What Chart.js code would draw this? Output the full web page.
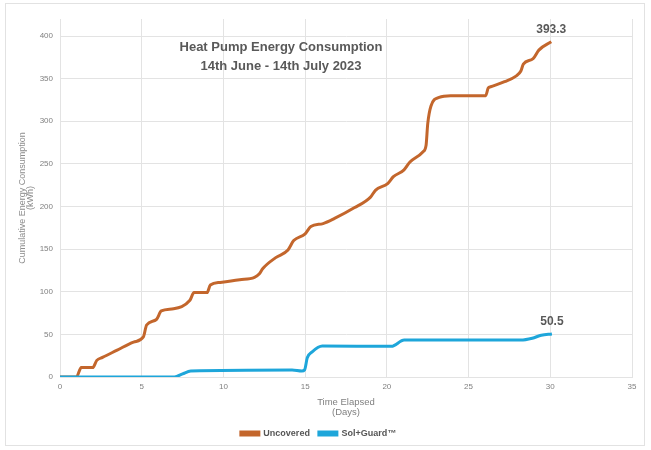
<!DOCTYPE html>
<html>
<head>
<meta charset="utf-8">
<script src="https://cdn.jsdelivr.net/npm/chart.js@4/dist/chart.umd.min.js"></script>
<style>
    html, body { margin: 0; padding: 0; background: #fff; }
    #wrap { width: 651px; height: 450px; position: relative; }
</style>
</head>
<body>
<div id="wrap"><canvas id="energyChart" width="651" height="450"></canvas></div>
<script>
// data
const uncoveredDays = [0, 1.0, 1.3, 2.0, 2.25, 2.6, 3.5, 4.5, 5.1, 5.3, 5.9, 6.2, 6.95, 7.95, 8.2, 9.0, 9.2, 9.8, 11.0, 11.9, 12.2, 12.4,
    13.2, 13.95, 14.3, 15.0, 15.35, 16.1, 16.8, 18.0, 19.0, 19.3, 20.05, 20.4, 21.05, 21.4, 22.2, 22.4, 22.5, 22.7,
    23.2, 23.9, 26.05, 26.2, 26.35, 27.2, 27.9, 28.2, 28.35, 28.95, 29.3, 30.06];
const uncoveredKwh = [0, 0, 11, 11, 19.5, 23, 31.5, 41, 47, 61, 67.5, 77.5, 80, 90, 99, 99, 108, 111, 114, 117, 121, 127,
    140, 149, 160, 168, 176.5, 180, 186, 198.5, 211, 219, 227, 235, 243, 252, 264, 272, 297, 318,
    328, 330, 330, 339, 340.5, 346.5, 353, 359, 367, 373.5, 383.5, 393.3];

const solDays = [0, 7.0, 7.5, 8.0, 14.2, 14.8, 14.97, 15.13, 15.43, 16.05, 20.28, 21.06, 28.2, 28.9, 29.45, 30.1];
const solKwh = [0, 0, 3.7, 7, 8.2, 7, 8.5, 22.5, 29.5, 36.3, 36, 43.3, 43.3, 45.5, 49, 50.5];

const xTicks = [0, 5, 10, 15, 20, 25, 30, 35];
const yTicks = [0, 50, 100, 150, 200, 250, 300, 350, 400];

const seriesNames = ['Uncovered', 'Sol+Guard\u2122'];
const endLabels = ['393.3', '50.5'];
const chartTitle = ['Heat Pump Energy Consumption', '14th June - 14th July 2023'];

const FONT = '"Liberation Sans", Arial, sans-serif';
const ORANGE = '#c3662c';
const BLUE = '#1ea6da';

function toPoints(xs, ys) {
    return xs.map((x, i) => ({ x: x, y: ys[i] }));
}

// white page + light frame
const framePlugin = {
    id: 'frame',
    beforeDraw(chart) {
        const ctx = chart.ctx;
        ctx.save();
        ctx.fillStyle = '#fff';
        ctx.fillRect(0, 0, chart.width, chart.height);
        ctx.strokeStyle = '#e2e2e2';
        ctx.lineWidth = 1;
        ctx.strokeRect(5.5, 3.5, 639, 442);
        ctx.restore();
    }
};

// title inside the plot and values at line ends
const textPlugin = {
    id: 'texts',
    afterDatasetsDraw(chart) {
        const ctx = chart.ctx;
        const xs = chart.scales.x;
        const ys = chart.scales.y;
        ctx.save();
        ctx.fillStyle = '#595959';
        ctx.textAlign = 'center';
        ctx.textBaseline = 'middle';
        ctx.font = 'bold 13px ' + FONT;
        ctx.fillText(chartTitle[0], 281, 47);
        ctx.fillText(chartTitle[1], 281, 66);

        ctx.font = 'bold 12px ' + FONT;
        const lasts = [
            [uncoveredDays[uncoveredDays.length - 1], uncoveredKwh[uncoveredKwh.length - 1]],
            [solDays[solDays.length - 1], solKwh[solKwh.length - 1]]
        ];
        lasts.forEach((p, i) => {
            ctx.fillText(endLabels[i], xs.getPixelForValue(p[0]), ys.getPixelForValue(p[1]) - 12);
        });
        ctx.restore();
    }
};

const ctx = document.getElementById('energyChart').getContext('2d');

new Chart(ctx, {
    type: 'line',
    data: {
        datasets: [{
            label: seriesNames[0],
            data: toPoints(uncoveredDays, uncoveredKwh),
            borderColor: ORANGE,
            backgroundColor: ORANGE,
            borderWidth: 3,
            pointRadius: 0,
            cubicInterpolationMode: 'monotone',
            order: 2
        }, {
            label: seriesNames[1],
            data: toPoints(solDays, solKwh),
            borderColor: BLUE,
            backgroundColor: BLUE,
            borderWidth: 3,
            pointRadius: 0,
            cubicInterpolationMode: 'monotone',
            order: 1
        }]
    },
    options: {
        responsive: false,
        animation: false,
        layout: { padding: { left: 5, right: 19, top: 19, bottom: 2 } },
        plugins: {
            tooltip: { enabled: false },
            legend: {
                position: 'bottom',
                reverse: true,
                labels: {
                    boxWidth: 18,
                    boxHeight: 3,
                    padding: 9,
                    color: '#555555',
                    font: { family: FONT, size: 9, weight: 'bold' }
                }
            }
        },
        scales: {
            x: {
                type: 'linear',
                min: 0,
                max: 35,
                afterBuildTicks: s => { s.ticks = xTicks.map(v => ({ value: v })); },
                afterFit: s => { s.height = 43; },
                grid: { color: '#e3e3e3', drawTicks: false },
                border: { color: '#e3e3e3' },
                ticks: {
                    padding: 5,
                    color: '#808080',
                    font: { family: FONT, size: 8 }
                },
                title: {
                    display: true,
                    text: ['Time Elapsed', '(Days)'],
                    color: '#808080',
                    padding: { top: 0, bottom: 3 },
                    font: { family: FONT, size: 9.5, lineHeight: 1.05 }
                }
            },
            y: {
                min: 0,
                max: 420,
                afterBuildTicks: s => { s.ticks = yTicks.map(v => ({ value: v })); },
                afterFit: s => { s.width = 55; },
                grid: { color: '#e3e3e3', drawTicks: false },
                border: { color: '#e3e3e3' },
                ticks: {
                    padding: 7,
                    color: '#808080',
                    font: { family: FONT, size: 8 }
                },
                title: {
                    display: true,
                    text: ['Cumulative Energy Consumption', '(kWh)'],
                    color: '#8c8c8c',
                    padding: { top: 13, bottom: 0 },
                    font: { family: FONT, size: 9, lineHeight: 0.9 }
                }
            }
        }
    },
    plugins: [framePlugin, textPlugin]
});
</script>
</body>
</html>
